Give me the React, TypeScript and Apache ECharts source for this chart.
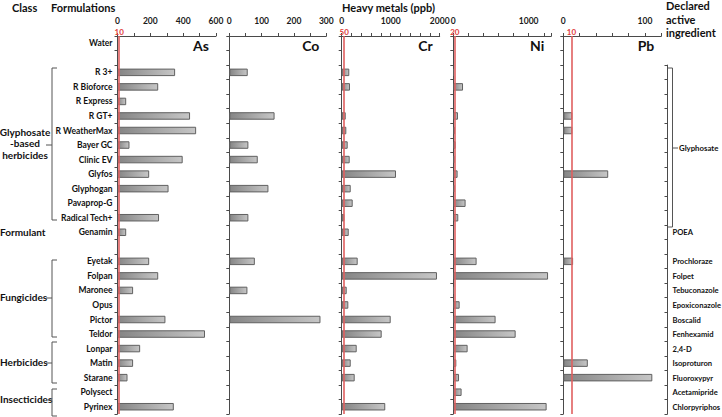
import React, { useEffect, useRef } from 'react';
import * as echarts from 'echarts';

// ---------- DATA ----------
const formulations = ['Water', ' ', 'R 3+', 'R Bioforce', 'R Express', 'R GT+', 'R WeatherMax', 'Bayer GC', 'Clinic EV', 'Glyfos', 'Glyphogan', 'Pavaprop-G', 'Radical Tech+', 'Genamin', '  ', 'Eyetak', 'Folpan', 'Maronee', 'Opus', 'Pictor', 'Teldor', 'Lonpar', 'Matin', 'Starane', 'Polysect', 'Pyrinex'];

const ingredients = ['', '', 'Glyphosate', 'Glyphosate', 'Glyphosate', 'Glyphosate', 'Glyphosate', 'Glyphosate', 'Glyphosate', 'Glyphosate', 'Glyphosate', 'Glyphosate', 'Glyphosate', 'POEA', '', 'Prochloraze', 'Folpet', 'Tebuconazole', 'Epoxiconazole', 'Boscalid', 'Fenhexamid', '2,4-D', 'Isoproturon', 'Fluoroxypyr', 'Acetamipride', 'Chlorpyriphos'];

const asValues = [null, null, 351, 248, 53, 442, 479, 73, 397, 193, 311, null, 253, 53, null, 193, 248, 95, null, 292, 533, 138, 95, 61, null, 343];
const coValues = [null, null, 57, null, null, 140, null, 59, 88, null, 121, null, 59, null, null, 79, null, 56, null, 282, null, null, null, null, null, null];
const crValues = [null, null, 155, 169, null, 82, 94, 122, 163, 1108, 184, 224, 53, 143, null, 326, 1944, 102, 135, 1000, 816, 306, 184, 265, null, 889];
const niValues = [null, null, 7, 129, null, 62, 23, 31, 17, 57, 17, 163, 66, null, null, 309, 1257, 5, 84, 561, 827, 190, 40, 76, 110, 1238];
const pbValues = [null, null, null, null, null, 11, 11, null, null, 55, null, null, null, null, null, 12, null, null, null, null, null, null, 30, 109, null, null];

const metals = ['As', 'Co', 'Cr', 'Ni', 'Pb'];
const metalValues = [asValues, coValues, crValues, niValues, pbValues];
const axisMax = [600, 300, 2000, 1300, 120];
const axisInterval = [200, 100, 1000, 1000, 100];
const minorSplits = [2, 2, 5, 5, 5];
const limits = [10, null, 50, 20, 10];

const classLabels = ['Glyphosate\n-based\nherbicides', 'Formulant', 'Fungicides', 'Herbicides', 'Insecticides'];

// ---------- LAYOUT ----------
const TOP = 36;
const HEIGHT = 378;
const ROW = HEIGHT / formulations.length;
const panelLeft = [117.5, 229.3, 341.7, 453.3, 563.3];
const panelWidth = [98.5, 97, 98, 98, 98];
const FONT = 'Lato, "Open Sans", sans-serif';
const AXIS_COLOR = '#4a4a4a';

export default function App() {
  const ref = useRef<HTMLDivElement>(null);

  useEffect(() => {
    if (!ref.current) return;
    const chart = echarts.init(ref.current, undefined, { renderer: 'svg' });

    const grids: any[] = [];
    const xAxes: any[] = [];
    const yAxes: any[] = [];
    const series: any[] = [];

    metals.forEach((m, i) => {
      grids.push({ left: panelLeft[i], top: TOP, width: panelWidth[i], height: HEIGHT });
      xAxes.push({
        type: 'value', gridIndex: i, position: 'top', min: 0, max: axisMax[i], interval: axisInterval[i],
        axisLine: { show: true, lineStyle: { color: AXIS_COLOR, width: 1 } },
        axisTick: { show: true, length: 3, lineStyle: { color: AXIS_COLOR } },
        minorTick: { show: true, splitNumber: minorSplits[i], length: 3, lineStyle: { color: AXIS_COLOR } },
        splitLine: { show: false },
        axisLabel: {
          show: true, fontSize: 8.5, fontWeight: 'bold', color: '#1a1a1a', fontFamily: FONT, margin: 11,
          showMaxLabel: axisMax[i] % axisInterval[i] === 0,
          formatter: (v: number) => String(v),
        },
      });
      yAxes.push({
        type: 'category', gridIndex: i, inverse: true, data: formulations,
        axisLine: { show: true, lineStyle: { color: AXIS_COLOR, width: 1 } },
        axisTick: { show: true, length: 3, lineStyle: { color: AXIS_COLOR } },
        axisLabel: { show: i === 0, fontSize: 8.5, fontWeight: 'bold', color: '#111', fontFamily: FONT, margin: 5 },
        splitLine: { show: false },
      });
      const s: any = {
        type: 'bar', xAxisIndex: i, yAxisIndex: i, data: metalValues[i], barWidth: 7.5,
        itemStyle: {
          color: new echarts.graphic.LinearGradient(0, 0, 1, 0, [
            { offset: 0, color: '#858585' },
            { offset: 1, color: '#c6c6c6' },
          ]),
          borderColor: '#606060', borderWidth: 1,
        },
      };
      if (limits[i] != null) {
        s.markLine = {
          silent: true, symbol: 'none',
          lineStyle: { color: '#e06060', width: 1.6, type: 'solid' },
          label: { show: true, position: 'start', formatter: String(limits[i]), color: '#e03c3c', fontSize: 8, fontWeight: 'bold', fontFamily: FONT, distance: 0 },
          data: [{ xAxis: limits[i] }],
        };
      }
      series.push(s);
    });

    // Declared active ingredient column
    const ingRows = ingredients.slice(2).map((v) => (v === 'Glyphosate' ? '' : v));
    const gi = metals.length;
    grids.push({ left: 667.5, top: TOP + 2 * ROW, width: 30, height: ingRows.length * ROW });
    xAxes.push({ type: 'value', gridIndex: gi, show: false, min: 0, max: 1 });
    yAxes.push({
      type: 'category', gridIndex: gi, inverse: true, data: ingRows,
      axisLine: { show: true, lineStyle: { color: AXIS_COLOR, width: 1 } },
      axisTick: { show: true, length: 3, inside: false, lineStyle: { color: AXIS_COLOR } },
      axisLabel: { show: true, inside: true, fontSize: 7.6, fontWeight: 'bold', color: '#111', fontFamily: FONT, margin: 5 },
    });
    series.push({ type: 'bar', xAxisIndex: gi, yAxisIndex: gi, data: ingRows.map(() => null) });

    const titleStyle = { fontSize: 11, fontWeight: 'bold', fill: '#111', fontFamily: FONT };
    const classStyle = { fontSize: 10, fontWeight: 'bold', fill: '#111', fontFamily: FONT };
    const lineStyle = { stroke: '#555', lineWidth: 1, fill: 'none' };

    const bracket = (y1: number, y2: number, ym: number, xTick0: number) => [
      { type: 'polyline', shape: { points: [[57, y1], [52, y1], [52, y2], [57, y2]] }, style: lineStyle },
      { type: 'line', shape: { x1: xTick0, y1: ym, x2: 52, y2: ym }, style: lineStyle },
    ];

    const graphic: any[] = [
      { type: 'text', x: 12, y: 7, style: { ...titleStyle, text: 'Class', verticalAlign: 'middle' } },
      { type: 'text', x: 51, y: 7, style: { ...titleStyle, text: 'Formulations', verticalAlign: 'middle' } },
      { type: 'text', x: 342, y: 7, style: { ...titleStyle, text: 'Heavy metals (ppb)', verticalAlign: 'middle' } },
      { type: 'text', x: 666, y: 19, style: { ...titleStyle, text: 'Declared\nactive\ningredient', verticalAlign: 'middle', lineHeight: 13.5 } },
      // class labels
      { type: 'text', x: 25, y: 143, style: { ...classStyle, text: classLabels[0], align: 'center', verticalAlign: 'middle', lineHeight: 11.5 } },
      { type: 'text', x: 0, y: 232, style: { ...classStyle, text: classLabels[1], verticalAlign: 'middle' } },
      { type: 'text', x: 0, y: 297, style: { ...classStyle, text: classLabels[2], verticalAlign: 'middle' } },
      { type: 'text', x: 0, y: 362, style: { ...classStyle, text: classLabels[3], verticalAlign: 'middle' } },
      { type: 'text', x: 0, y: 399, style: { ...classStyle, text: classLabels[4], verticalAlign: 'middle' } },
      ...bracket(68, 220, 145, 46),
      ...bracket(260, 337, 298, 46),
      ...bracket(342, 383, 363, 46),
      ...bracket(389, 416, 400, 48),
      // Glyphosate bracket on the right
      { type: 'polyline', shape: { points: [[667.5, 68], [672.5, 68], [672.5, 227], [667.5, 227]] }, style: lineStyle },
      { type: 'line', shape: { x1: 672.5, y1: 148, x2: 678, y2: 148 }, style: lineStyle },
      { type: 'text', x: 679, y: 148, style: { fontSize: 7.8, fontWeight: 'bold', fill: '#111', fontFamily: FONT, text: ingredients[2], verticalAlign: 'middle' } },
    ];
    metals.forEach((m, i) => {
      graphic.push({
        type: 'text', x: panelLeft[i] + panelWidth[i] - 7, y: 45,
        style: { text: m, fontSize: 14, fontWeight: 'bold', fill: '#111', fontFamily: FONT, align: 'right', verticalAlign: 'middle' },
      });
    });

    chart.setOption({
      animation: false,
      backgroundColor: '#ffffff',
      grid: grids,
      xAxis: xAxes,
      yAxis: yAxes,
      series,
      graphic,
    });
    return () => chart.dispose();
  }, []);

  return <div ref={ref} style={{ position: 'absolute', left: 0, top: 0, width: 722, height: 417 }} />;
}
